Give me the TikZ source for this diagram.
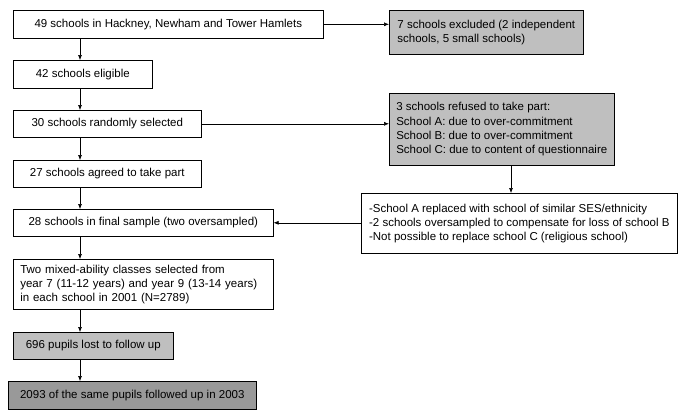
\documentclass[tikz,border=0pt]{standalone}
\usepackage{fontspec}
\setmainfont{Liberation Sans}
\usetikzlibrary{arrows.meta,positioning,calc,shadows}

\begin{document}
\begin{tikzpicture}[
    x=1pt, y=-1pt,
    flow/.style={
        rectangle, draw=black, line width=0.6pt, fill=#1,
        anchor=north west, inner xsep=7pt, inner ysep=0pt,
        drop shadow={shadow xshift=1pt, shadow yshift=-1pt, fill=black!45, opacity=0.7},
        font=\fontsize{11.5}{14.2}\selectfont
    },
    flow/.default=white,
    arr/.style={-{Latex[length=5pt, width=4pt]}, line width=0.6pt},
]
\useasboundingbox (0,0) rectangle (685,418);

% Main column
\node[flow, minimum width=310pt, minimum height=28pt] (all) at (13,10)
    {49 schools in Hackney, Newham and Tower Hamlets};
\node[flow, minimum width=139pt, minimum height=28pt] (eligible) at (13,60)
    {42 schools eligible};
\node[flow, minimum width=188pt, minimum height=27pt] (selected) at (13,110)
    {30 schools randomly selected};
\node[flow, minimum width=188pt, minimum height=27pt] (agreed) at (13,160)
    {27 schools agreed to take part};
\node[flow, minimum width=260pt, minimum height=27pt] (final) at (13,209)
    {28 schools in final sample (two oversampled)};
\node[flow, minimum width=260pt, minimum height=50pt, text width=246pt, align=left] (classes) at (13,259)
    {Two mixed-ability classes selected from\\year 7 (11-12 years) and year 9 (13-14 years)\\in each school in 2001 (N=2789)};
\node[flow=black!25, minimum width=160pt, minimum height=27pt] (lost) at (13,332)
    {696 pupils lost to follow up};
\node[flow=black!40, minimum width=248pt, minimum height=28pt] (followed) at (8,381)
    {2093 of the same pupils followed up in 2003};

% Side boxes
\node[flow=black!25, minimum width=194pt, minimum height=44pt, align=left] (excluded) at (389,10)
    {7 schools excluded (2 independent\\schools, 5 small schools)};
\node[flow=black!25, minimum width=224pt, minimum height=72pt, align=left] (refused) at (389,93)
    {3 schools refused to take part:\\School A: due to over-commitment\\School B: due to over-commitment\\School C: due to content of questionnaire};
\node[flow, minimum width=316pt, minimum height=60pt, align=left] (replaced) at (361,193)
    {-School A replaced with school of similar SES/ethnicity\\-2 schools oversampled to compensate for loss of school B\\-Not possible to replace school C (religious school)};

\coordinate (spine) at (80,0);
\coordinate (drop) at (511,0);

% Arrows
\draw[arr] (all.south -| spine) -- (eligible.north -| spine);
\draw[arr] (eligible.south -| spine) -- (selected.north -| spine);
\draw[arr] (selected.south -| spine) -- (agreed.north -| spine);
\draw[arr] (agreed.south -| spine) -- (final.north -| spine);
\draw[arr] (final.south -| spine) -- (classes.north -| spine);
\draw[arr] (classes.south -| spine) -- (lost.north -| spine);
\draw[arr] (lost.south -| spine) -- (followed.north -| spine);
\draw[arr] (all.east) -- (all.east -| excluded.west);
\draw[arr] (selected.east) -- (selected.east -| refused.west);
\draw[arr] (refused.south -| drop) -- (replaced.north -| drop);
\draw[arr] (replaced.west |- final.east) -- (final.east);
\end{tikzpicture}
\end{document}
